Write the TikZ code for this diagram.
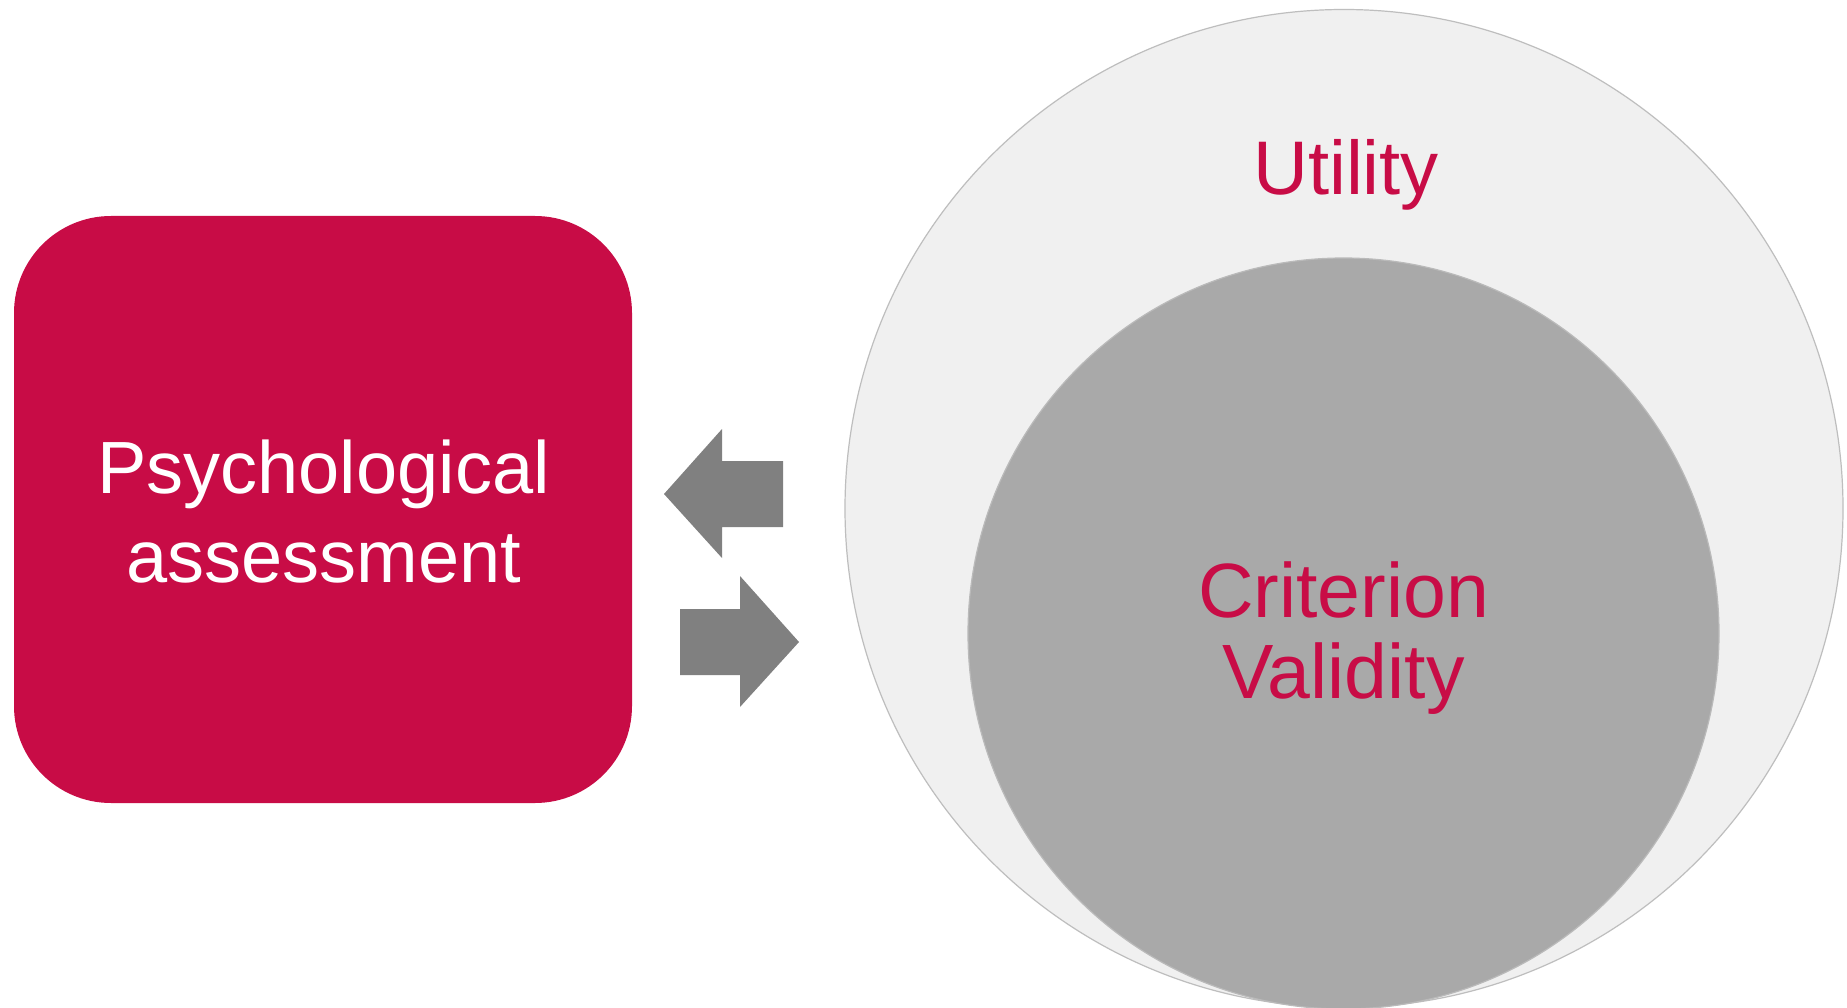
\documentclass[tikz,border=0pt]{standalone}
\usepackage{fontspec}
\setmainfont{Liberation Sans}
\definecolor{crimson}{RGB}{200,12,70}
\definecolor{ringfill}{RGB}{240,240,240}
\definecolor{ringline}{RGB}{190,190,190}
\definecolor{corefill}{RGB}{169,169,169}
\definecolor{arrowgray}{RGB}{128,128,128}
\begin{document}
\begin{tikzpicture}[x=1pt, y=-1pt]
    \useasboundingbox (0, 0) rectangle (1847, 1008);
    \fill[white] (0, 0) rectangle (1847, 1008);
    \node[fill=crimson, rounded corners=97pt, minimum width=618pt, minimum height=587pt, inner sep=0pt] (assess) at (323, 509.5) {};
    \node[circle, fill=ringfill, draw=ringline, line width=1.2pt, minimum size=998pt, inner sep=0pt] (utility) at (1344, 508.5) {};
    \node[circle, fill=corefill, draw=ringline!80!corefill, line width=1.2pt, minimum size=751pt, inner sep=0pt] (criterion) at (1343.5, 633.5) {};
    \node[white, font=\fontsize{74}{89}\selectfont, align=center] (assesslabel) at (323.5, 512) {Psychological\\assessment};
    \node[crimson, font=\fontsize{76}{91}\selectfont, anchor=base] (utilitylabel) at (1346, 194.5) {Utility};
    \node[crimson, font=\fontsize{77}{81}\selectfont, align=center] (criterionlabel) at (1343.5, 638) {Criterion\\Validity};
    \fill[arrowgray] (664, 494) -- (722, 429) -- (722, 461) -- (783, 461) -- (783, 527) -- (722, 527) -- (722, 558) -- cycle;
    \fill[arrowgray] (799, 642) -- (740, 576) -- (740, 609) -- (680, 609) -- (680, 675) -- (740, 675) -- (740, 707) -- cycle;
\end{tikzpicture}
\end{document}
